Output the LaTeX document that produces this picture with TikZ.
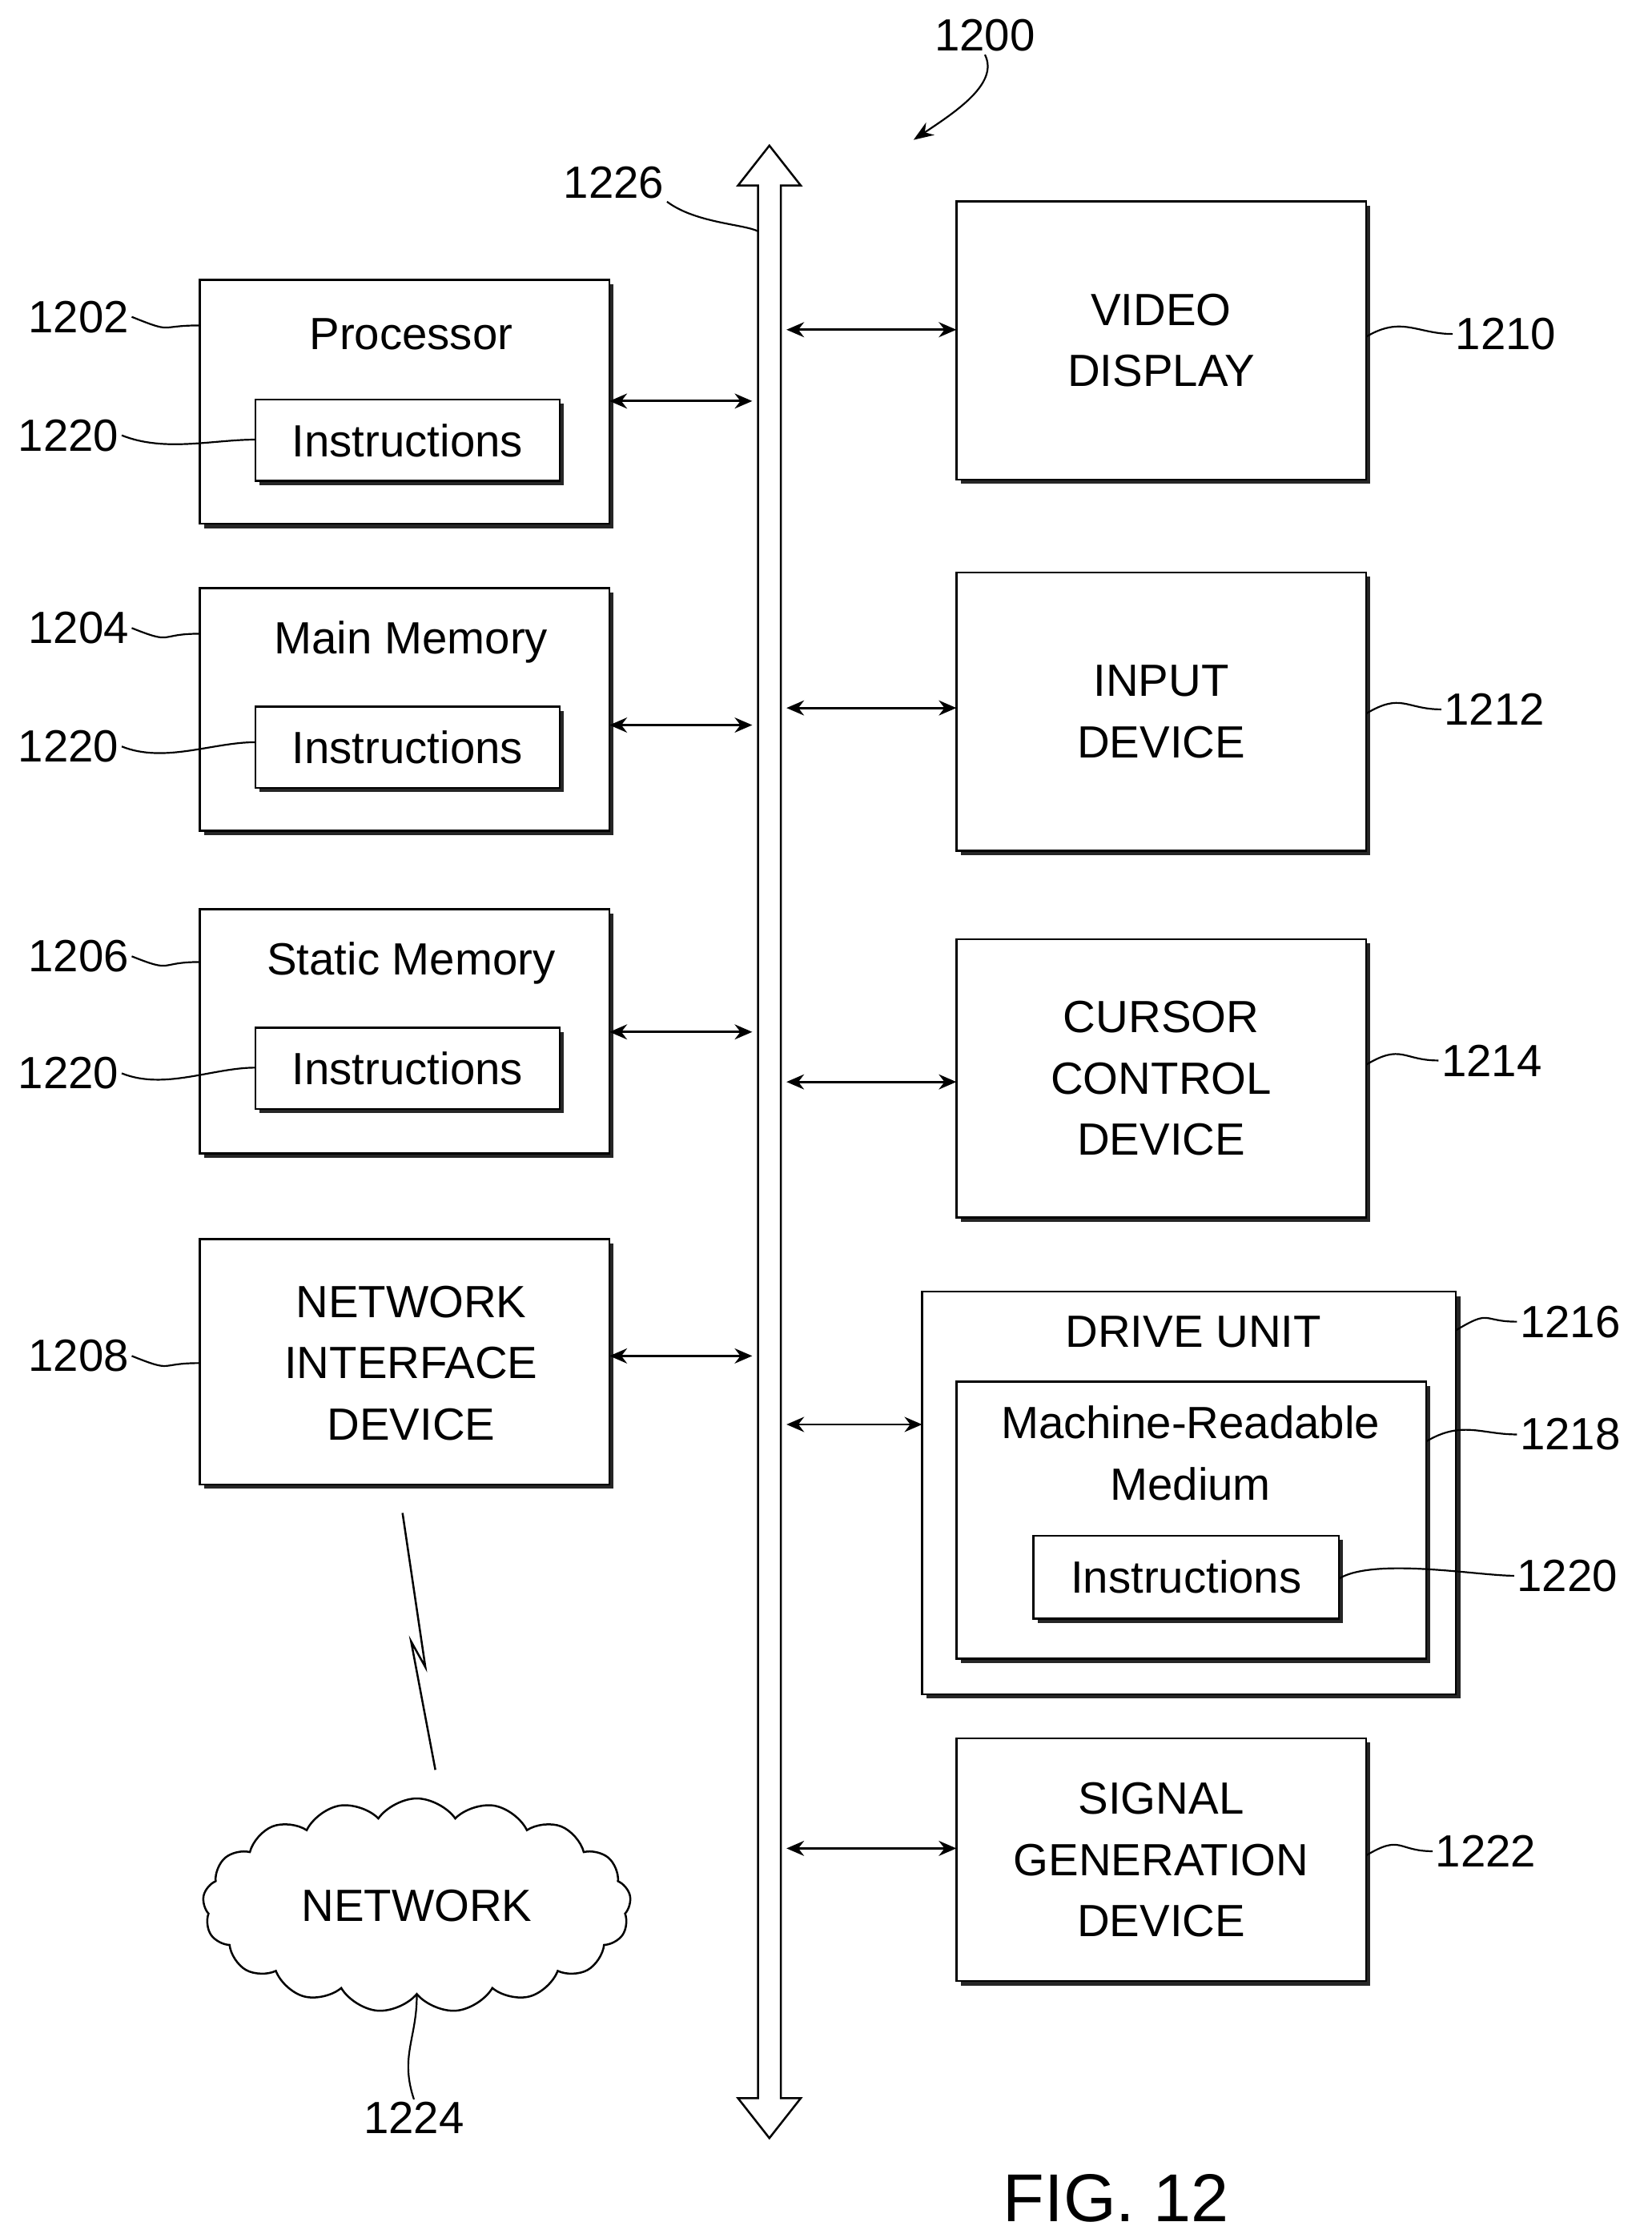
\documentclass[tikz,border=0pt]{standalone}
\usepackage{fontspec}
\setmainfont{Liberation Sans}
\usetikzlibrary{shapes.symbols,arrows.meta}
\begin{document}
\begin{tikzpicture}[x=0.02cm,y=-0.02cm,
        font=\fontsize{18}{24.5}\selectfont,
        box/.style={draw,line width=0.8pt,fill=white},
        shade/.style={fill=black!85},
        link/.style={{Stealth[length=7pt,width=6pt]}-{Stealth[length=7pt,width=6pt]},line width=0.9pt},
        lead/.style={line width=0.7pt},
        num/.style={inner sep=1pt}]
    \useasboundingbox (0,0) rectangle (1157,1568);

    % boxes with a thin shadow
    \foreach \name/\xa/\ya/\xb/\yb in {proc/140/196/427/367, main/140/412/427/582,
            stat/140/637/427/808, nic/140/868/427/1040, video/670/141/957/336,
            input/670/401/957/596, cursor/670/658/957/853, drive/646/905/1020/1187,
            mrm/670/968/999/1162, sig/670/1218/957/1388,
            ins1/179/280/392/337, ins2/179/495/392/552, ins3/179/720/392/777,
            ins4/724/1076/938/1134} {
        \fill[shade] (\xa+3,\ya+3) rectangle (\xb+3,\yb+3);
        \draw[box] (\xa,\ya) rectangle (\xb,\yb);
        \coordinate (\name-w) at (\xa,{(\ya+\yb)/2});
        \coordinate (\name-e) at (\xb,{(\ya+\yb)/2});
        \coordinate (\name-c) at ({(\xa+\xb)/2},{(\ya+\yb)/2});
    }

    % texts
    \node (tproc)  at (288,234) {Processor};
    \node (tmain)  at (288,450) {Main Memory};
    \node (tstat)  at (288,675) {Static Memory};
    \node[align=center] (tnic) at (288,955) {NETWORK\\INTERFACE\\DEVICE};
    \foreach \i in {1,...,4} \node (tins\i) at (ins\i-c) {Instructions};
    \node[align=center] (tvideo)  at (video-c)  {VIDEO\\DISPLAY};
    \node[align=center] (tinput)  at (input-c)  {INPUT\\DEVICE};
    \node[align=center] (tcursor) at (cursor-c) {CURSOR\\CONTROL\\DEVICE};
    \node (tdrive) at (836,933) {DRIVE UNIT};
    \node[align=center] (tmrm) at (834,1018) {Machine-Readable\\Medium};
    \node[align=center] (tsig) at (sig-c) {SIGNAL\\GENERATION\\DEVICE};

    % bus
    \draw[line width=0.8pt,fill=white] (539,102) -- (561,130) -- (547,130) -- (547,1470)
        -- (561,1470) -- (539,1498) -- (517,1470) -- (531,1470) -- (531,130)
        -- (517,130) -- cycle;
    \coordinate (busl1) at (527,281);  \coordinate (busl2) at (527,508);
    \coordinate (busl3) at (527,723);  \coordinate (busl4) at (527,950);
    \coordinate (busr1) at (551,231);  \coordinate (busr2) at (551,496);
    \coordinate (busr3) at (551,758);  \coordinate (busr4) at (551,998);
    \coordinate (busr5) at (551,1295);
    \draw[link] (427,281) -- (busl1);
    \draw[link] (427,508) -- (busl2);
    \draw[link] (427,723) -- (busl3);
    \draw[link] (427,950) -- (busl4);
    \draw[link] (busr1) -- (670,231);
    \draw[link] (busr2) -- (670,496);
    \draw[link] (busr3) -- (670,758);
    \draw[link] (busr4) -- (646,998);
    \draw[link] (busr5) -- (670,1295);

    % network
    \node[cloud,draw,line width=0.8pt,cloud puffs=17,cloud puff arc=110,aspect=2.2,
        minimum width=6cm,minimum height=3cm] (net) at (292,1335) {NETWORK};
    \draw[line width=0.8pt] (282,1060) -- (298,1168) -- (288,1150) -- (305,1240);

    % reference numerals
    \node[num] (n1200) at (690,25) {1200};
    \draw[lead,-{Stealth[length=8pt,width=6pt]}] (n1200.south) .. controls +(10,20) and +(30,-20) .. (640,98);
    \node[num] (n1226) at (430,128) {1226};
    \draw[lead] (n1226.south east) .. controls +(20,15) and +(-10,-5) .. (531,162);
    \foreach \n/\x/\y/\tx/\ty in {1202/55/222/140/228, 1204/55/440/140/444,
            1206/55/670/140/674, 1208/55/950/140/955,
            1220/48/305/179/308, 1220/48/523/179/520, 1220/48/752/179/748} {
        \node[num] (l\n) at (\x,\y) {\n};
        \draw[lead] (l\n.east) .. controls +(30,12) and +(-30,0) .. (\tx,\ty);
    }
    \foreach \n/\x/\y/\tx/\ty in {1210/1055/234/957/236, 1212/1047/497/957/500,
            1214/1045/743/957/746, 1216/1100/926/1020/932,
            1218/1100/1005/999/1010, 1220/1098/1104/938/1106, 1222/1041/1297/957/1300} {
        \node[num] (r\n) at (\x,\y) {\n};
        \draw[lead] (\tx,\ty) .. controls +(25,-15) and +(-25,0) .. (r\n.west);
    }
    \node[num] (n1224) at (290,1484) {1224};
    \draw[lead] (n1224.north) .. controls +(-10,-30) and +(0,30) .. (net.south);
    \node[font=\fontsize{27}{30}\selectfont] (fig) at (782,1540) {FIG. 12};
\end{tikzpicture}
\end{document}
